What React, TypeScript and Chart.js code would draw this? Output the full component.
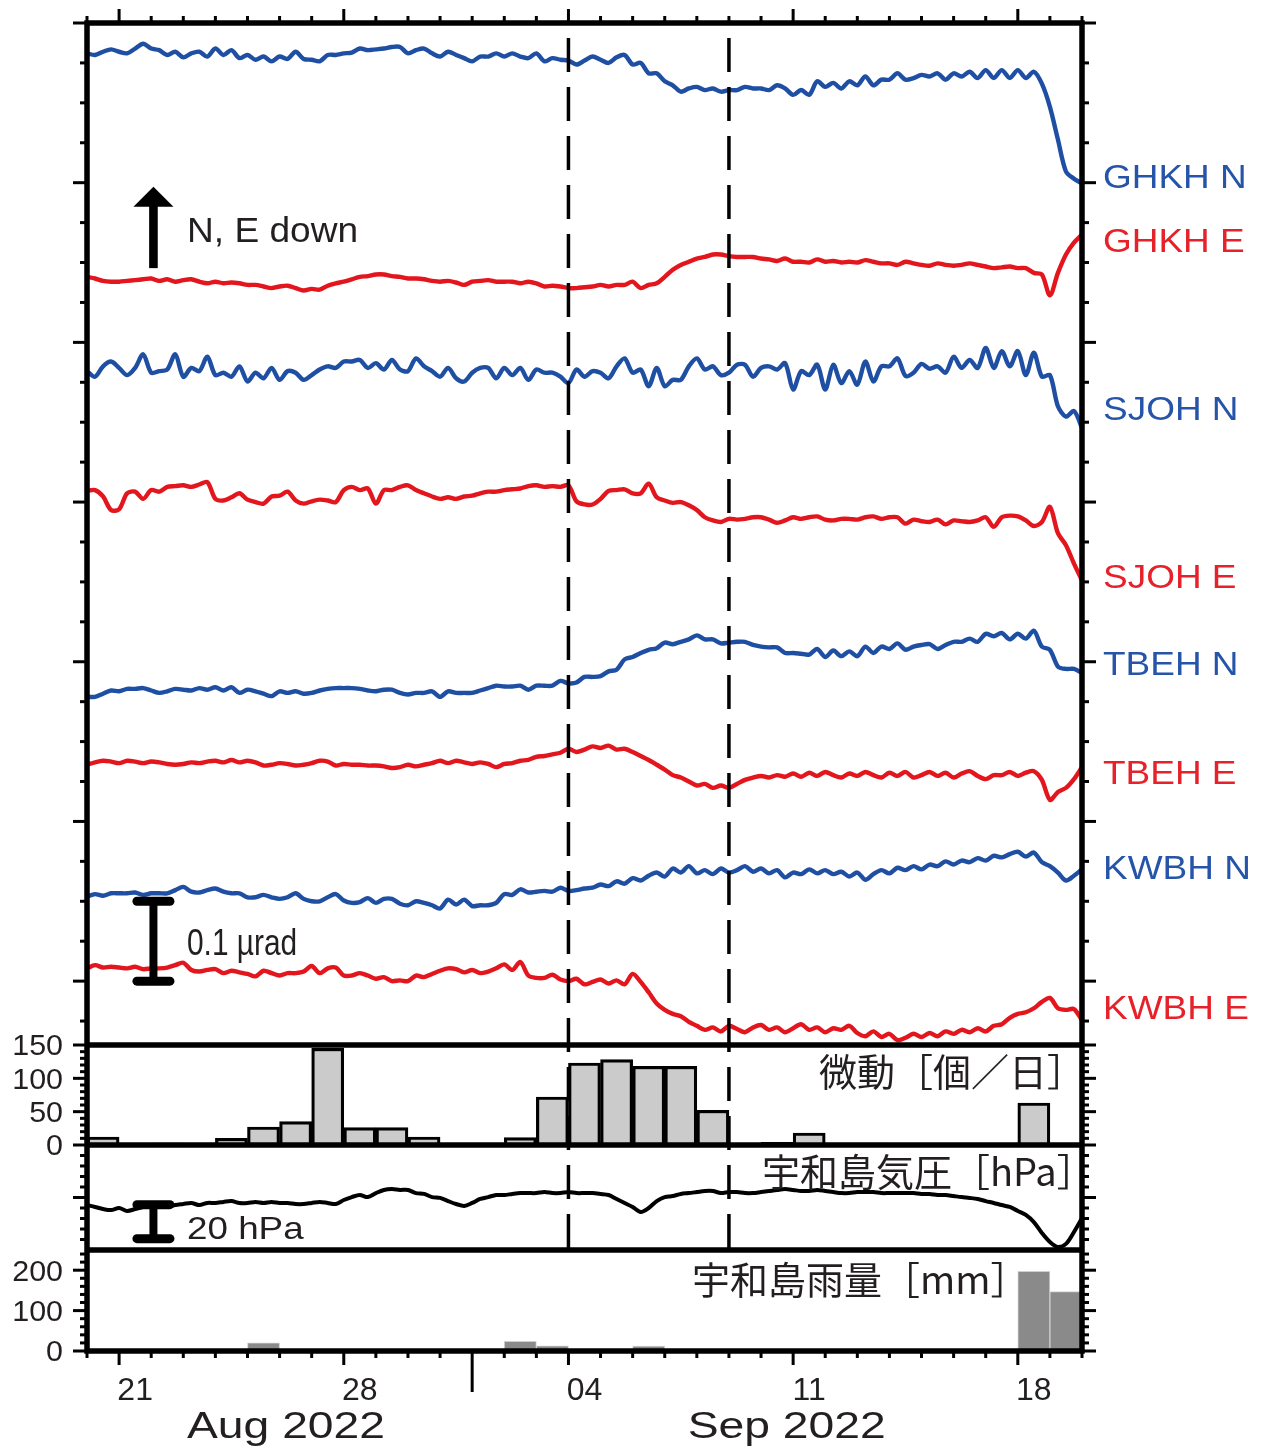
import React, { useEffect, useRef } from 'react';
import { Chart, registerables } from 'chart.js';

Chart.register(...registerables);

// ---------------- data ----------------
// x axis: days since 2022-08-20 00:00; tilt and pressure are sampled every 6 h
const SAMPLE_STEP_DAYS = 0.25;
const X_MIN_DAY = 0;
const X_MAX_DAY = 31;

const DAY_TICK_LABELS = ['21', '28', '04', '11', '18'];
const DAY_TICK_LABEL_DAYS = [1, 8, 15, 22, 29];
const MONTH_LABELS = ['Aug 2022', 'Sep 2022'];
const MONTH_LABEL_DAYS = [6.2, 21.8];
const MONTH_BOUNDARY_DAY = 12; // Sep 01
const EVENT_LINE_DAYS = [15, 20]; // Sep 04, Sep 09

const TREMOR_TICK_LABELS = [0, 50, 100, 150];
const RAIN_TICK_LABELS = [0, 100, 200];

const STATION_NAMES = ['GHKH N', 'GHKH E', 'SJOH N', 'SJOH E', 'TBEH N', 'TBEH E', 'KWBH N', 'KWBH E'];

// tilt change in nrad (N up, E down), relative to each trace's own reference level
const GHKH_N = [
  2, 0, 4, 7, 4, 2, 8, 14,
  8, 6, 0, 4, -3, 2, 4, -2,
  8, 0, 6, -4, 0, -6, -2, -8,
  -2, -5, 4, -5, -6, -8, 0, 0,
  2, 3, 8, 6, 7, 8, 10, 10,
  2, 6, 8, 2, -2, 4, 0, -4,
  -8, -2, -2, 2, -2, 2, -2, -4,
  2, -8, -4, -6, -7, -12, -7, -2,
  -6, -10, -3, 0, -12, -10, -23, -23,
  -33, -38, -46, -42, -40, -44, -42, -46,
  -44, -44, -40, -42, -42, -44, -38, -42,
  -50, -44, -50, -33, -40, -35, -42, -33,
  -38, -27, -38, -31, -31, -23, -31, -29,
  -25, -27, -23, -31, -23, -27, -21, -29,
  -19, -29, -19, -29, -19, -29, -21, -36,
  -65, -106, -146, -155, -161,
];
const GHKH_E = [
  5, 3, 0, -1, -1, 0, 1, 2,
  3, 0, 2, -1, 1, 2, -1, -3,
  -1, -3, -2, -3, -5, -5, -7, -9,
  -7, -6, -9, -12, -10, -11, -6, -3,
  -1, 2, 5, 6, 8, 8, 6, 5,
  3, 3, 2, 0, -1, 0, -2, -5,
  -1, 0, 1, -1, -1, -1, -3, -1,
  -3, -7, -6, -7, -9, -9, -8, -7,
  -5, -7, -5, -5, -1, -9, -5, -3,
  5, 14, 20, 24, 28, 30, 33, 33,
  31, 30, 30, 30, 28, 27, 25, 28,
  24, 24, 23, 27, 24, 25, 23, 24,
  23, 26, 24, 22, 22, 20, 24, 22,
  20, 19, 22, 20, 19, 20, 22, 20,
  18, 16, 17, 18, 16, 16, 10, 8,
  -18, 10, 33, 48, 58,
];
const SJOH_N = [
  -3, -10, 3, 9, 1, -8, 1, 18,
  -5, -3, -1, 18, -10, 1, -3, 15,
  -8, -5, -10, 3, -16, -5, -12, 1,
  -14, -3, -5, -14, -8, -1, 3, 1,
  9, 9, 11, 1, 7, -1, 11, -1,
  -3, 13, 3, -3, -10, 1, -12, -16,
  -5, 1, 1, -12, 1, -8, 1, -14,
  -1, -5, -5, -10, -18, -1, -10, -3,
  -5, -12, 3, 13, -5, -1, -22, 1,
  -22, -14, -14, 3, 13, -1, 3, -8,
  -5, 5, 5, -10, 1, 3, -1, 7,
  -26, -3, -8, 5, -26, 5, -18, -3,
  -20, 9, -16, 3, 3, 13, -9, -5,
  6, 0, 3, -5, 15, 1, 11, 1,
  26, 1, 22, 3, 22, -8, 20, -10,
  -8, -47, -60, -53, -74,
];
const SJOH_E = [
  3, 4, -4, -21, -20, 0, 2, -7,
  4, 2, 8, 9, 10, 8, 11, 14,
  -7, -9, -5, 0, -8, -11, -13, -4,
  -3, 2, -9, -13, -10, -8, -9, -11,
  4, 8, 4, 6, -13, 4, 4, 8,
  10, 4, 0, -4, -7, -5, -7, -4,
  -3, 0, 2, 2, 4, 5, 6, 9,
  10, 8, 9, 8, 10, -10, -14, -14,
  -7, 3, 4, 5, 0, 0, 12, -5,
  -9, -12, -11, -15, -21, -30, -34, -36,
  -32, -33, -32, -30, -30, -33, -37, -34,
  -30, -32, -30, -29, -33, -34, -32, -32,
  -33, -30, -29, -32, -30, -30, -38, -33,
  -35, -36, -33, -39, -34, -35, -36, -34,
  -30, -42, -30, -28, -29, -34, -41, -36,
  -17, -50, -65, -88, -109,
];
const TBEH_N = [
  -5, -5, -1, 3, 2, 5, 5, 6,
  3, 0, 2, 5, 4, 3, 6, 4,
  7, 3, 7, 0, 4, 2, -1, -4,
  2, 0, 2, -1, 0, 3, 5, 6,
  6, 6, 5, 3, 2, 4, 4, 0,
  -2, 0, 0, 2, -5, 2, 0, 0,
  0, 3, 6, 9, 8, 8, 9, 4,
  9, 9, 9, 15, 12, 13, 20, 20,
  21, 27, 29, 42, 45, 50, 54, 56,
  63, 61, 64, 67, 72, 67, 67, 62,
  63, 64, 64, 60, 58, 57, 57, 50,
  50, 49, 48, 55, 45, 53, 46, 52,
  46, 58, 50, 58, 55, 62, 54, 58,
  60, 61, 55, 60, 64, 64, 68, 64,
  74, 71, 75, 67, 74, 68, 78, 58,
  54, 33, 30, 30, 25,
];
const TBEH_E = [
  0, 3, 5, 4, 2, 5, 4, 2,
  4, 3, 1, 0, 1, 3, 2, 4,
  5, 3, 6, 3, 5, 3, -1, 0,
  2, 1, -1, 0, 2, 5, 4, -1,
  1, 0, 0, -1, -1, -2, -4, -3,
  0, -2, 0, 2, 5, 2, 5, 3,
  1, 3, 1, -3, 1, 2, 5, 6,
  10, 11, 13, 15, 20, 16, 19, 23,
  21, 24, 19, 20, 16, 11, 6, 0,
  -6, -13, -16, -21, -26, -24, -29, -26,
  -29, -24, -19, -16, -14, -16, -13, -15,
  -11, -15, -10, -14, -9, -13, -16, -11,
  -14, -9, -13, -16, -10, -14, -9, -16,
  -13, -9, -14, -10, -16, -11, -8, -14,
  -18, -13, -13, -9, -14, -10, -8, -19,
  -44, -34, -29, -18, -3,
];
const KWBH_N = [
  -4, -1, -3, 0, 0, 0, 1, -2,
  0, 0, 0, 4, 8, 2, 1, 4,
  6, 2, 0, 0, -5, -5, -2, -5,
  -7, -5, 0, -7, -10, -10, -5, -1,
  -9, -12, -11, -6, -12, -7, -7, -13,
  -15, -10, -12, -15, -19, -8, -14, -8,
  -16, -15, -15, -12, -1, -2, 5, 1,
  2, 3, 2, 7, 3, 4, 6, 7,
  11, 9, 15, 12, 19, 16, 22, 26,
  21, 31, 26, 34, 25, 29, 24, 31,
  26, 29, 34, 27, 31, 25, 29, 20,
  26, 24, 30, 25, 29, 24, 27, 21,
  26, 17, 24, 29, 25, 32, 29, 34,
  30, 36, 34, 40, 36, 41, 39, 44,
  41, 47, 45, 49, 52, 46, 51, 39,
  34, 26, 16, 22, 30,
];
const KWBH_E = [
  1, 5, 2, 3, 2, 1, 3, 0,
  1, 1, 2, 5, 8, -1, -3, -1,
  0, -5, -2, -4, -6, -9, -2, -5,
  -8, -5, -5, -3, 4, -5, 1, 2,
  -8, -8, -5, -8, -12, -10, -15, -14,
  -15, -8, -10, -6, -2, 1, 0, -4,
  -1, -5, -3, 1, 6, -1, 9, -8,
  -11, -11, -7, -13, -15, -12, -19, -16,
  -13, -18, -14, -19, -6, -16, -29, -43,
  -51, -56, -59, -66, -71, -76, -73, -78,
  -71, -75, -79, -73, -70, -76, -73, -79,
  -74, -69, -76, -73, -79, -74, -76, -71,
  -80, -84, -78, -85, -81, -89, -86, -81,
  -85, -80, -84, -78, -81, -76, -79, -74,
  -78, -71, -69, -61, -56, -54, -49, -41,
  -36, -49, -51, -50, -64,
];

// Uwajima air pressure (hPa), every 6 h
const PRESSURE_HPA = [
  1006.4, 1005.5, 1004.5, 1004.0, 1005.0, 1003.6, 1004.5, 1005.5,
  1006.0, 1006.0, 1005.5, 1006.4, 1006.9, 1007.4, 1006.4, 1007.4,
  1007.4, 1007.9, 1008.3, 1007.4, 1007.4, 1007.9, 1007.4, 1007.9,
  1007.4, 1007.4, 1006.9, 1006.9, 1007.4, 1007.9, 1007.4, 1006.9,
  1008.8, 1010.2, 1011.2, 1010.2, 1012.1, 1013.6, 1014.0, 1013.6,
  1013.6, 1012.1, 1011.7, 1010.2, 1009.8, 1008.3, 1006.9, 1006.0,
  1007.4, 1009.3, 1010.2, 1011.2, 1011.2, 1011.7, 1012.1, 1012.1,
  1012.1, 1012.6, 1012.1, 1012.1, 1012.6, 1012.1, 1012.1, 1012.1,
  1011.7, 1011.2, 1009.3, 1007.4, 1005.5, 1003.1, 1005.0, 1008.3,
  1010.2, 1010.7, 1011.7, 1012.1, 1012.6, 1013.1, 1013.1, 1012.1,
  1012.6, 1012.6, 1012.1, 1012.1, 1012.6, 1013.1, 1013.6, 1014.0,
  1013.6, 1013.1, 1013.1, 1013.6, 1013.1, 1012.6, 1012.1, 1012.1,
  1012.6, 1012.6, 1012.6, 1012.1, 1012.1, 1012.1, 1012.1, 1012.1,
  1011.7, 1011.7, 1011.2, 1011.2, 1010.7, 1010.2, 1009.8, 1009.3,
  1008.3, 1007.4, 1006.4, 1005.5, 1003.6, 1001.7, 998.3, 993.1,
  988.8, 986.4, 987.9, 993.6, 1000.2,
];

// daily values, Aug 20 ... Sep 19
const TREMOR_PER_DAY = [
  12, 0, 3, 0, 10, 27, 35, 145, 26, 26, 12, 0, 0, 11, 72, 123,
  128, 118, 118, 52, 0, 4, 18, 3, 3, 0, 0, 0, 2, 63, 0,
];
const RAIN_MM = [
  0, 0, 0, 0, 0, 20, 0, 0, 0, 0, 0, 0, 5, 24, 13, 2,
  0, 12, 0, 0, 0, 0, 2, 0, 1, 0, 0, 0, 2, 197, 147,
];

// ---------------- layout / style (not data) ----------------
const TILT_SERIES = [GHKH_N, GHKH_E, SJOH_N, SJOH_E, TBEH_N, TBEH_E, KWBH_N, KWBH_E];
const TRACE_OFFSETS = [1160, 877, 767, 611, 361, 271, 110, 15];
const LABEL_LEVELS = [1008, 928, 718, 507, 398, 262, 143, -33];
const SCALEBAR_DAY = 2.07;
const TILT_SCALEBAR = [0, 100]; // 0.1 µrad
const PRESSURE_SCALEBAR = [988.5, 1008.5]; // 20 hPa
const ARROW_RANGE = [893, 995];

const BLUE = '#1f4fa3';
const RED = '#e3151d';
const BLUE_TXT = '#2554a8';
const RED_TXT = '#e62129';
const INK = '#231f20';
const LATIN = '"Liberation Sans", Arial, sans-serif';
const CJK = '"Noto Sans CJK JP", "Noto Sans CJK SC", sans-serif';

function text(ctx: any, s: string, x: number, y: number, size: number, opts: any = {}) {
  ctx.save();
  ctx.font = `${size}px ${opts.family || LATIN}`;
  ctx.fillStyle = opts.color || INK;
  ctx.textAlign = opts.align || 'left';
  ctx.textBaseline = 'alphabetic';
  ctx.translate(x, y);
  ctx.scale(opts.sx || 1, 1);
  ctx.fillText(s, 0, 0);
  ctx.restore();
}

function seg(ctx: any, x1: number, y1: number, x2: number, y2: number) {
  ctx.beginPath();
  ctx.moveTo(x1, y1);
  ctx.lineTo(x2, y2);
  ctx.stroke();
}

function range(from: number, to: number, step: number) {
  const out: number[] = [];
  for (let v = from; v <= to + 1e-9; v += step) out.push(Math.round(v * 1000) / 1000);
  return out;
}

const overlay = {
  id: 'overlay',
  afterDatasetsDraw(chart: any) {
    const ctx = chart.ctx;
    const { x, yTilt, yTrem, yPres, yRain } = chart.scales;
    const L = x.left;
    const R = x.right;
    const TOP = yTilt.top;
    const BOT = yRain.bottom;

    ctx.save();
    // event dashed lines
    ctx.strokeStyle = '#000';
    ctx.lineWidth = 3.5;
    ctx.setLineDash([34, 15]);
    ctx.lineDashOffset = 34;
    EVENT_LINE_DAYS.forEach((d) => {
      const px = x.getPixelForValue(d);
      seg(ctx, px, TOP, px, yPres.bottom);
    });
    ctx.setLineDash([]);

    // x ticks (top and bottom)
    ctx.lineWidth = 3;
    for (let d = X_MIN_DAY; d <= X_MAX_DAY; d++) {
      const px = x.getPixelForValue(d);
      const major = DAY_TICK_LABEL_DAYS.includes(d);
      const len = major ? 14 : 7;
      seg(ctx, px, TOP, px, TOP - len);
      seg(ctx, px, BOT, px, BOT + (d === MONTH_BOUNDARY_DAY ? 41 : len));
    }

    // y ticks (both sides, outward)
    const yt = (scale: any, vals: number[], isMajor: (v: number) => boolean) => {
      vals.forEach((v) => {
        const py = scale.getPixelForValue(v);
        const len = isMajor(v) ? 14 : 7;
        seg(ctx, L - len, py, L, py);
        seg(ctx, R, py, R + len, py);
      });
    };
    yt(yTilt, range(-50, 1200, 50), (v) => v % 200 === 0);
    yt(yTrem, range(0, 150, 10), (v) => v % 50 === 0);
    yt(yPres, range(990, 1030, 5), (v) => v === 1010);
    yt(yRain, range(20, 240, 20), (v) => v % 100 === 0);
    yt(yRain, [0], () => true);

    // panel frames
    ctx.lineWidth = 5.5;
    ctx.strokeRect(L, TOP, R - L, BOT - TOP);
    [yTilt.bottom, yTrem.bottom, yPres.bottom].forEach((py) => seg(ctx, L, py, R, py));

    // tick labels
    DAY_TICK_LABELS.forEach((s, i) => {
      text(ctx, s, x.getPixelForValue(DAY_TICK_LABEL_DAYS[i] + 0.5), BOT + 49, 32, { align: 'center' });
    });
    MONTH_LABELS.forEach((s, i) => {
      text(ctx, s, x.getPixelForValue(MONTH_LABEL_DAYS[i]), BOT + 87, 37, { align: 'center', sx: 1.25 });
    });
    TREMOR_TICK_LABELS.forEach((v) => {
      text(ctx, String(v), L - 24, yTrem.getPixelForValue(v) + 10.4, 29, { align: 'right', sx: 1.05 });
    });
    RAIN_TICK_LABELS.forEach((v) => {
      text(ctx, String(v), L - 24, yRain.getPixelForValue(v) + 10.4, 29, { align: 'right', sx: 1.05 });
    });

    // station labels
    STATION_NAMES.forEach((s, i) => {
      text(ctx, s, R + 21, yTilt.getPixelForValue(LABEL_LEVELS[i]) + 11.8, 33, {
        color: i % 2 === 0 ? BLUE_TXT : RED_TXT, sx: 1.12,
      });
    });

    // panel titles
    text(ctx, '微動［個／日］', 819, yTrem.top + 41, 38, { family: CJK });
    text(ctx, '宇和島気圧［hPa］', 762, yPres.top + 41, 38, { family: CJK });
    text(ctx, '宇和島雨量［mm］', 692, yRain.top + 44, 38, { family: CJK });

    // direction arrow
    const ax = x.getPixelForValue(SCALEBAR_DAY);
    const aBot = yTilt.getPixelForValue(ARROW_RANGE[0]);
    const aTip = yTilt.getPixelForValue(ARROW_RANGE[1]);
    ctx.fillStyle = '#000';
    ctx.fillRect(ax - 4.3, aTip + 18, 8.6, aBot - aTip - 18);
    ctx.beginPath();
    ctx.moveTo(ax, aTip);
    ctx.lineTo(ax + 20, aTip + 20);
    ctx.lineTo(ax - 20, aTip + 20);
    ctx.closePath();
    ctx.fill();
    text(ctx, 'N, E down', 187, aTip + 55, 35, { sx: 1.06 });

    // scale bars
    const bar = (scale: any, lo: number, hi: number, inset: number) => {
      const y1 = scale.getPixelForValue(hi) + inset;
      const y2 = scale.getPixelForValue(lo) - inset;
      ctx.strokeStyle = '#000';
      ctx.lineCap = 'butt';
      ctx.lineWidth = 8;
      seg(ctx, ax, y1, ax, y2);
      ctx.lineCap = 'round';
      ctx.lineWidth = 9;
      seg(ctx, ax - 16.5, y1, ax + 16.5, y1);
      seg(ctx, ax - 16.5, y2, ax + 16.5, y2);
      ctx.lineCap = 'butt';
    };
    bar(yTilt, TILT_SCALEBAR[0], TILT_SCALEBAR[1], 0);
    text(ctx, '0.1 µrad', 187, yTilt.getPixelForValue(TILT_SCALEBAR[0]) - 26, 36, { sx: 0.83 });
    bar(yPres, PRESSURE_SCALEBAR[0], PRESSURE_SCALEBAR[1], 4);
    text(ctx, '20 hPa', 187, yPres.getPixelForValue(PRESSURE_SCALEBAR[0]) - 3.5, 32, { sx: 1.15 });

    ctx.restore();
  },
};

export default function App() {
  const ref = useRef<HTMLCanvasElement | null>(null);

  useEffect(() => {
    if (!ref.current) return;
    const stepX = (i: number) => i * SAMPLE_STEP_DAYS;
    const tiltSets = TILT_SERIES.map((s, k) => ({
      type: 'line',
      data: s.map((v, i) => ({ x: stepX(i), y: v + TRACE_OFFSETS[k] })),
      xAxisID: 'x',
      yAxisID: 'yTilt',
      borderColor: k % 2 === 0 ? BLUE : RED,
      borderWidth: 4.4,
      pointRadius: 0,
      tension: 0.3,
      fill: false,
      borderJoinStyle: 'round',
      borderCapStyle: 'round',
    }));
    const chart = new Chart(ref.current, {
      type: 'line',
      data: {
        datasets: [
          ...tiltSets,
          {
            type: 'line',
            data: PRESSURE_HPA.map((v, i) => ({ x: stepX(i), y: v })),
            xAxisID: 'x',
            yAxisID: 'yPres',
            borderColor: '#000',
            borderWidth: 4,
            pointRadius: 0,
            tension: 0.3,
            fill: false,
            borderJoinStyle: 'round',
          },
          {
            type: 'bar',
            data: TREMOR_PER_DAY.map((v, i) => ({ x: i + 0.5, y: v })),
            xAxisID: 'x',
            yAxisID: 'yTrem',
            grouped: false,
            barPercentage: 1,
            categoryPercentage: 1,
            backgroundColor: '#cacbca',
            borderColor: '#000',
            borderWidth: 3.2,
            borderSkipped: 'start',
          },
          {
            type: 'bar',
            data: RAIN_MM.map((v, i) => ({ x: i + 0.5, y: v })),
            xAxisID: 'x',
            yAxisID: 'yRain',
            grouped: false,
            barPercentage: 1,
            categoryPercentage: 1,
            backgroundColor: '#8a8a8a',
            borderColor: '#cfcfcf',
            borderWidth: 1,
            borderSkipped: 'start',
          },
        ] as any,
      },
      options: {
        responsive: false,
        animation: false,
        events: [],
        layout: { padding: { left: 87, right: 179, top: 23, bottom: 104 } },
        plugins: { legend: { display: false }, tooltip: { enabled: false }, title: { display: false } },
        scales: {
          x: { type: 'linear', min: X_MIN_DAY, max: X_MAX_DAY, offset: false, display: false, ticks: { stepSize: 1 } },
          yRain: { type: 'linear', position: 'left', stack: 'panels', stackWeight: 101, weight: 1, min: 0, max: 250, display: false },
          yPres: { type: 'linear', position: 'left', stack: 'panels', stackWeight: 105, weight: 2, min: 985, max: 1035, display: false },
          yTrem: { type: 'linear', position: 'left', stack: 'panels', stackWeight: 100, weight: 3, min: 0, max: 150, display: false },
          yTilt: { type: 'linear', position: 'left', stack: 'panels', stackWeight: 1022, weight: 4, min: -80, max: 1200, display: false },
        },
      } as any,
      plugins: [overlay],
    });
    return () => chart.destroy();
  }, []);

  return (
    <div style={{ position: 'absolute', left: 0, top: 0, width: 1261, height: 1455, background: '#fff' }}>
      <canvas ref={ref} width={1261} height={1455} style={{ display: 'block', width: 1261, height: 1455 }} />
    </div>
  );
}
